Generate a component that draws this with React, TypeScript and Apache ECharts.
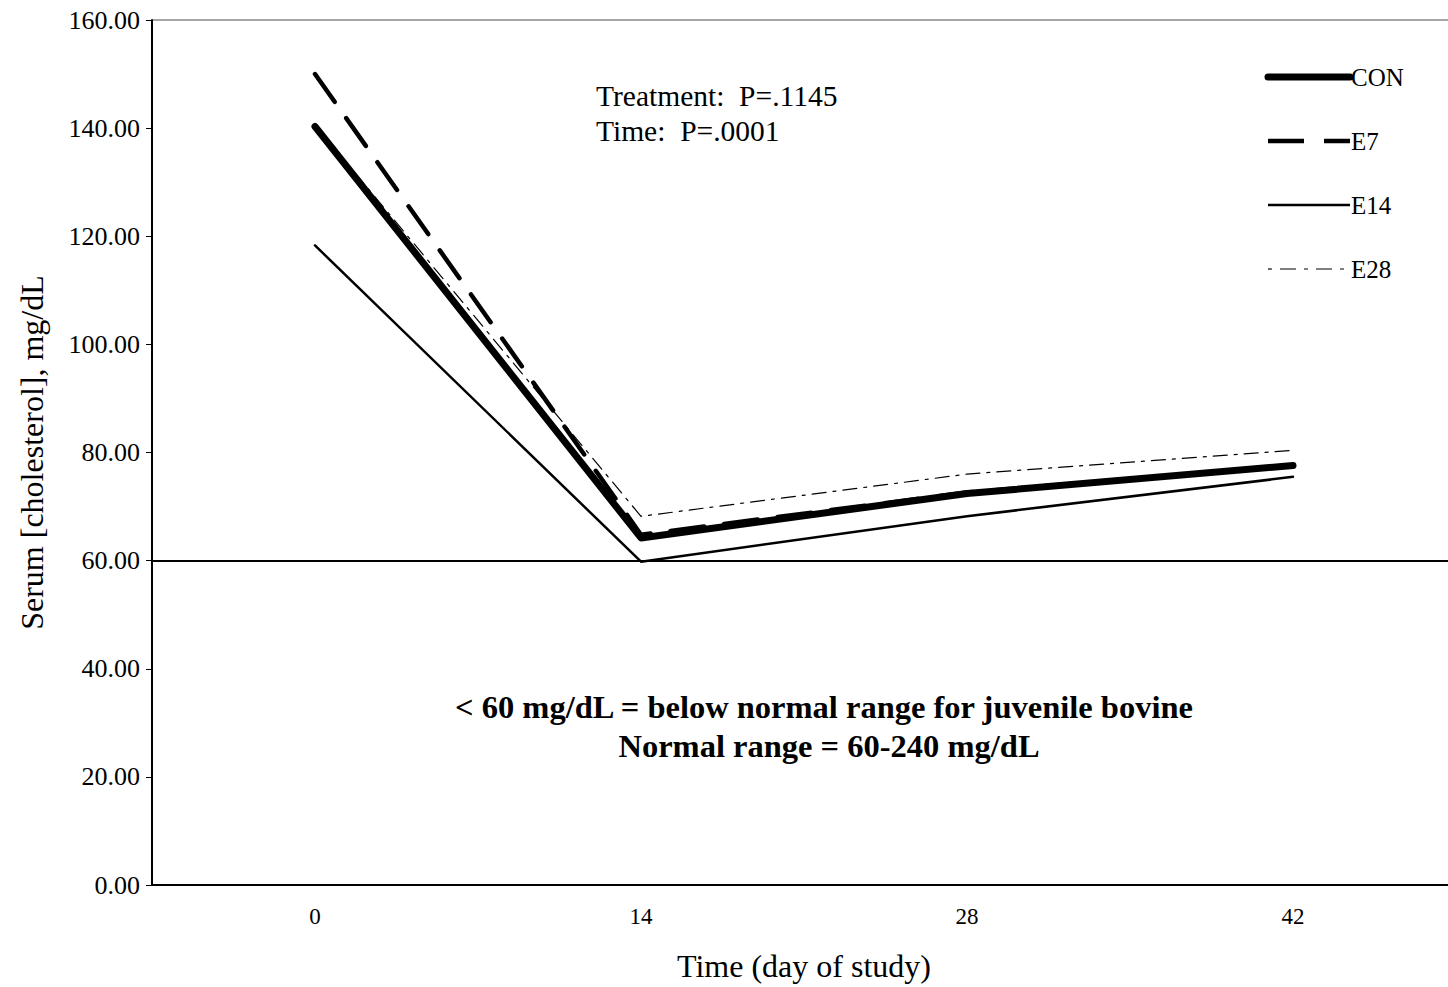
import React, { useEffect, useRef } from "react";
import * as echarts from "echarts";

const days = ["0", "14", "28", "42"];
const seriesNames = ["CON", "E7", "E14", "E28"];
const conValues = [140.3, 64.2, 72.4, 77.6];
const e7Values = [150.0, 64.8, 72.6, 77.6];
const e14Values = [118.3, 59.8, 68.2, 75.5];
const e28Values = [140.6, 68.2, 76.0, 80.4];
const normalLimit = 60;
const yTicks = { min: 0, max: 160, interval: 20 };

const FONT = '"Liberation Serif", "Times New Roman", serif';

const styles: Record<string, { width: number; dash: any }> = {
  CON: { width: 7, dash: "solid" },
  E7: { width: 4.5, dash: [34, 20] },
  E14: { width: 2.5, dash: "solid" },
  E28: { width: 1.2, dash: [14, 7, 3, 7] },
};

export default function App() {
  const ref = useRef<HTMLDivElement>(null);
  useEffect(() => {
    if (!ref.current) return;
    const chart = echarts.init(ref.current, undefined, { renderer: "svg" });
    const mk = (name: string, data: number[]) => ({
      name,
      type: "line",
      data,
      symbol: "none",
      lineStyle: {
        color: "#000",
        width: styles[name].width,
        type: styles[name].dash,
        cap: "round",
        join: "round",
      },
      itemStyle: { color: "#000" },
    });
    const legendGraphics: any[] = [];
    seriesNames.forEach((n, i) => {
      const y = 77 + i * 64;
      const s = styles[n];
      legendGraphics.push({
        type: "line",
        shape: { x1: 1268, y1: y, x2: 1350, y2: y },
        style: {
          stroke: "#000",
          lineWidth: s.width,
          lineDash: s.dash === "solid" ? null : n === "E7" ? [36, 20] : [4, 8, 16, 8],
          lineCap: n === "CON" ? "round" : "butt",
        },
      });
      legendGraphics.push({
        type: "text",
        x: 1351,
        y,
        style: {
          text: n,
          fontFamily: FONT,
          fontSize: 25,
          fill: "#000",
          textVerticalAlign: "middle",
          verticalAlign: "middle",
        },
      });
    });
    chart.setOption({
      animation: false,
      backgroundColor: "#fff",
      textStyle: { fontFamily: FONT, color: "#000" },
      grid: { left: 152, right: 0, top: 20, bottom: 102, containLabel: false },
      xAxis: {
        type: "category",
        data: days,
        boundaryGap: true,
        name: "Time (day of study)",
        nameLocation: "middle",
        nameGap: 65,
        nameTextStyle: { fontFamily: FONT, fontSize: 32, color: "#000" },
        axisLine: { lineStyle: { color: "#000", width: 2 } },
        axisTick: { inside: true, length: 6, lineStyle: { color: "#000" } },
        axisLabel: { fontFamily: FONT, fontSize: 23, color: "#000", margin: 20 },
        splitLine: { show: false },
      },
      yAxis: {
        type: "value",
        min: yTicks.min,
        max: yTicks.max,
        interval: yTicks.interval,
        name: "Serum [cholesterol], mg/dL",
        nameLocation: "middle",
        nameGap: 104,
        nameTextStyle: { fontFamily: FONT, fontSize: 32, color: "#000" },
        axisLine: { show: true, lineStyle: { color: "#000", width: 2 } },
        axisTick: { show: true, length: 6, lineStyle: { color: "#000" } },
        axisLabel: {
          fontFamily: FONT,
          fontSize: 26,
          color: "#000",
          margin: 12,
          formatter: (v: number) => v.toFixed(2),
        },
        splitLine: { show: false },
      },
      series: [
        {
          ...mk("CON", conValues),
          markLine: {
            silent: true,
            symbol: "none",
            label: { show: false },
            lineStyle: { color: "#000", width: 2, type: "solid" },
            data: [{ yAxis: normalLimit }],
          },
        },
        mk("E7", e7Values),
        mk("E14", e14Values),
        mk("E28", e28Values),
      ],
      graphic: [
        {
          type: "line",
          shape: { x1: 152, y1: 20, x2: 1456, y2: 20 },
          style: { stroke: "#888", lineWidth: 1.5 },
        },
        {
          type: "text",
          x: 596,
          y: 96,
          style: {
            text: "Treatment:  P=.1145",
            fontFamily: FONT,
            fontSize: 29.5,
            fill: "#000",
            verticalAlign: "middle",
            textVerticalAlign: "middle",
          },
        },
        {
          type: "text",
          x: 596,
          y: 131,
          style: {
            text: "Time:  P=.0001",
            fontFamily: FONT,
            fontSize: 29.5,
            fill: "#000",
            verticalAlign: "middle",
            textVerticalAlign: "middle",
          },
        },
        {
          type: "text",
          x: 824,
          y: 707,
          style: {
            text: "< 60 mg/dL = below normal range for juvenile bovine",
            fontFamily: FONT,
            fontSize: 32.5,
            fontWeight: "bold",
            fill: "#000",
            align: "center",
            textAlign: "center",
            verticalAlign: "middle",
            textVerticalAlign: "middle",
          },
        },
        {
          type: "text",
          x: 829,
          y: 746,
          style: {
            text: "Normal range = 60-240 mg/dL",
            fontFamily: FONT,
            fontSize: 32.5,
            fontWeight: "bold",
            fill: "#000",
            align: "center",
            textAlign: "center",
            verticalAlign: "middle",
            textVerticalAlign: "middle",
          },
        },
        ...legendGraphics,
      ],
    });
    return () => chart.dispose();
  }, []);
  return (
    <div
      ref={ref}
      style={{ position: "fixed", left: 0, top: 0, width: 1456, height: 987, background: "#fff" }}
    />
  );
}
